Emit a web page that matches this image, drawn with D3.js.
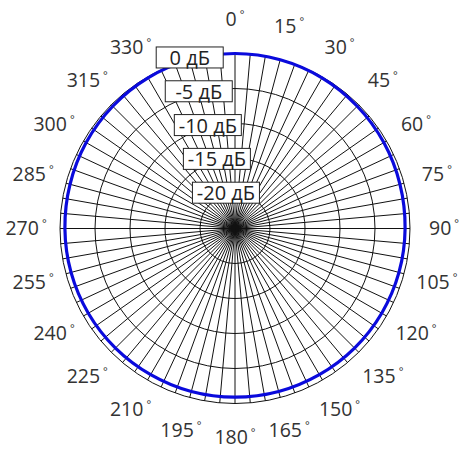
<!DOCTYPE html>
<html><head><meta charset="utf-8">
<script src="https://cdn.jsdelivr.net/npm/d3@7"></script>
<style>html,body{margin:0;padding:0;background:#fff;}svg{display:block;}</style>
</head><body>
<svg id="c" width="460" height="460"></svg>
<script>
// Data
const patternAngles = [0,15,30,45,60,75,90,105,120,135,150,165,180,195,210,225,240,255,270,285,300,315,330,345];
const patternGain   = [0,-0.05,-0.15,-0.3,-0.45,-0.6,-0.7,-0.75,-0.8,-0.85,-0.9,-0.9,-0.9,-0.9,-0.9,-0.85,-0.8,-0.75,-0.7,-0.6,-0.45,-0.3,-0.15,-0.05];
const ringValues = [0,-5,-10,-15,-20];
const ringLabels = ["0 дБ","-5 дБ","-10 дБ","-15 дБ","-20 дБ"];
const angleLabels = [0,15,30,45,60,75,90,105,120,135,150,165,180,195,210,225,240,255,270,285,300,315,330];
const gridStep = 5;

const cx = 235, cy = 228.5, R = 175;
const svg = d3.select("#c");
const g = svg.append("g").attr("transform", `translate(${cx},${cy})`);
const r = d3.scaleLinear().domain([-25, 0]).range([0, R]);
const rad = d => d * Math.PI / 180;

// radial grid lines
const gridAngles = d3.range(0, 360, gridStep);
g.append("g").selectAll("line").data(gridAngles).join("line")
  .attr("x1", 0).attr("y1", 0)
  .attr("x2", d => R * Math.sin(rad(d)))
  .attr("y2", d => -R * Math.cos(rad(d)))
  .attr("stroke", "#111").attr("stroke-width", 1);

// rings
g.append("g").selectAll("circle").data(ringValues).join("circle")
  .attr("r", d => r(d)).attr("fill", "none")
  .attr("stroke", "#111").attr("stroke-width", 1);

// pattern
const pts = patternAngles.map((a, i) => [rad(a), r(patternGain[i])]);
const line = d3.lineRadial().angle(d => d[0]).radius(d => d[1]).curve(d3.curveCardinalClosed);
g.append("path").attr("d", line(pts)).attr("fill", "none")
  .attr("stroke", "#0a0adc").attr("stroke-width", 3.2);

// angle labels
const lab = g.append("g").attr("font-family", "'Open Sans', sans-serif").attr("fill", "#333");
angleLabels.forEach(a => {
  const lr = 209;
  const t = lab.append("text")
    .attr("x", lr * Math.sin(rad(a)))
    .attr("y", -lr * Math.cos(rad(a)) + 6.5)
    .attr("text-anchor", "middle")
    .attr("font-size", 19.5)
    .text(a);
  t.append("tspan").attr("font-size", 11).attr("dx", 3).attr("dy", -8).text("°");
});

// ring labels with boxes along 345° ray
const bw = 67, bh = 21, la = rad(345);
const bl = g.append("g").attr("font-family", "'Open Sans', sans-serif");
ringValues.forEach((v, i) => {
  const rr = r(v);
  const x = rr * Math.sin(la), y = -rr * Math.cos(la) - 2;
  bl.append("rect").attr("x", x - bw / 2).attr("y", y - bh / 2)
    .attr("width", bw).attr("height", bh)
    .attr("fill", "#fff").attr("stroke", "#222").attr("stroke-width", 1);
  bl.append("text").attr("x", x).attr("y", y + 7.5)
    .attr("text-anchor", "middle").attr("font-size", 20).attr("fill", "#222")
    .text(ringLabels[i]);
});
</script>
</body></html>
